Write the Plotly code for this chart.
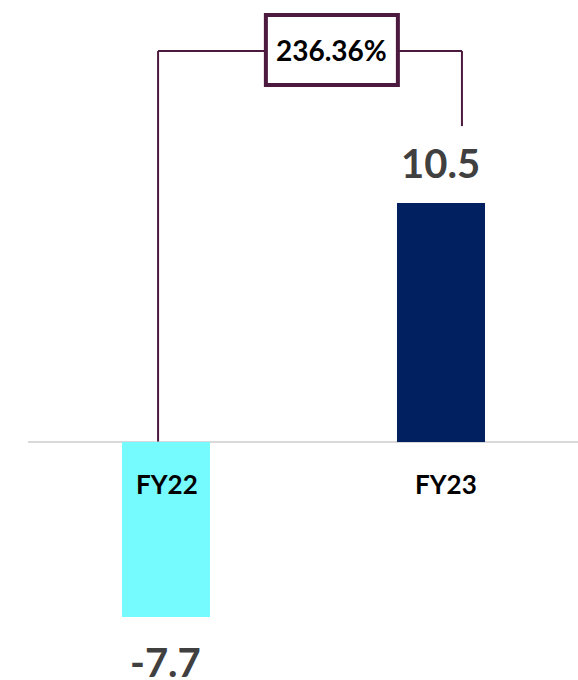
import plotly.graph_objects as go

categories = ["FY22", "FY23"]
values = [-7.7, 10.5]
bar_colors = ["#75FBFD", "#002060"]

change_pct = (values[1] - values[0]) / abs(values[0]) * 100
change_label = f"{change_pct:.2f}%"

FONT = "Lato"
CONN = "#4B1A3E"
W, H = 578, 680

fig = go.Figure()
fig.add_trace(go.Bar(
    x=[0, 1], y=values, marker=dict(color=bar_colors, line=dict(width=0)),
    width=0.32, hoverinfo="skip", showlegend=False,
))

# value labels
for i, v in enumerate(values):
    off = 1.72 if v > 0 else -1.98
    fig.add_annotation(x=i, y=v + off, text=f"<b>{v}</b>", showarrow=False,
                       font=dict(family=FONT, size=40, color="#404040"),
                       xanchor="center", yanchor="middle")

# category labels
for i, c in enumerate(categories):
    fig.add_annotation(x=i + (0.005 if i == 0 else 0.02), y=-1.87, text=f"<b>{c}</b>",
                       showarrow=False, font=dict(family=FONT, size=26, color="#000000"),
                       xanchor="center", yanchor="middle")

# connector
top_y = 17.16
lx, rx = -0.027, 1.078
bx0, bx1, by0, by1 = 0.365, 0.845, 15.66, 18.74
fig.add_shape(type="line", x0=lx, x1=lx, y0=0, y1=top_y, line=dict(color=CONN, width=2))
fig.add_shape(type="line", x0=lx, x1=bx0, y0=top_y, y1=top_y, line=dict(color=CONN, width=2))
fig.add_shape(type="line", x0=bx1, x1=rx, y0=top_y, y1=top_y, line=dict(color=CONN, width=2))
fig.add_shape(type="line", x0=rx, x1=rx, y0=top_y, y1=values[1] + 3.36, line=dict(color=CONN, width=2))
fig.add_shape(type="rect", x0=bx0, x1=bx1, y0=by0, y1=by1, line=dict(color=CONN, width=4),
              fillcolor="white")
fig.add_annotation(x=(bx0 + bx1) / 2, y=(by0 + by1) / 2, text=f"<b>{change_label}</b>",
                   showarrow=False, font=dict(family=FONT, size=28, color="#000000"),
                   xanchor="center", yanchor="middle")

fig.update_layout(
    width=W, height=H, margin=dict(l=28, r=0, t=0, b=0),
    paper_bgcolor="white", plot_bgcolor="white",
    xaxis=dict(range=[-0.5, 1.5], visible=False, fixedrange=True),
    yaxis=dict(range=[-10.48, 19.40], showgrid=False, showticklabels=False,
               zeroline=True, zerolinecolor="#D9D9D9", zerolinewidth=2, fixedrange=True),
    bargap=0,
)

fig.write_html("out.html", config={"displayModeBar": False},
               post_script="document.body.style.margin='0';document.body.style.overflow='hidden';")
